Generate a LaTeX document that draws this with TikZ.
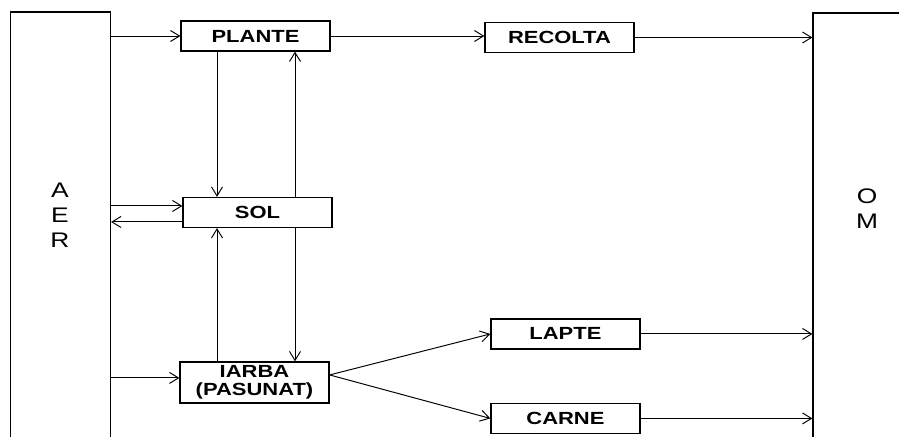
\documentclass[tikz,border=0pt]{standalone}
\usepackage{fontspec}
\usetikzlibrary{arrows.meta}
\newfontfamily\arialw{Liberation Sans}[FakeStretch=1.25]

\begin{document}
\begin{tikzpicture}[x=0.02cm, y=-0.02cm, line width=0.55pt,
    >={Straight Barb[length=1.8mm,width=2.2mm]},
    bloc/.style={draw, line width=0.7pt, minimum width=2.98cm, minimum height=0.6cm,
      inner sep=1pt, align=center, font=\arialw\bfseries\fontsize{10}{10.2}\selectfont},
    zona/.style={draw, line width=0.7pt, minimum width=2cm, minimum height=8.96cm},
    litere/.style={align=center, font=\arialw\fontsize{12}{14.2}\selectfont}]
    \path[use as bounding box, fill=white] (0,0) rectangle (899,436);

    % aer si om, cele doua zone mari
    \node (aer) [zona] at (60.5,236) {};
    \node (om) [zona, minimum width=2.12cm] at (866,237) {};
    \node (aertext) [litere] at (60,215.5) {A\\E\\R};
    \node (omtext) [litere] at (867,209) {O\\M};

    \node (plante) [bloc] at (255.5,36) {PLANTE};
    \node (sol) [bloc, below of=plante, node distance=3.53cm, xshift=0.04cm] {SOL};
    \node (iarba) [bloc, below of=sol, node distance=3.4cm, xshift=-0.06cm, minimum height=0.82cm] {IARBA\\(PASUNAT)};
    \node (recolta) [bloc, right of=plante, node distance=6.08cm, yshift=-0.03cm] {RECOLTA};
    \node (lapte) [bloc, right of=iarba, node distance=6.22cm, yshift=0.97cm] {LAPTE};
    \node (carne) [bloc, right of=iarba, node distance=6.22cm, yshift=-0.72cm] {CARNE};

    \coordinate (cl) at ([xshift=-0.77cm]plante.south);
    \coordinate (cr) at ([xshift=0.79cm]plante.south);
    \coordinate (s1) at ([yshift=0.13cm]sol.west);
    \coordinate (s2) at ([yshift=-0.19cm]sol.west);
    \coordinate (i1) at ([yshift=0.09cm]iarba.west);
    \coordinate (i2) at ([yshift=0.15cm]iarba.east);

    \draw[->] (aer.east |- plante) -- (plante);
    \draw[->] (aer.east |- s1) -- (s1);
    \draw[->] (s2) -- (aer.east |- s2);
    \draw[->] (aer.east |- i1) -- (i1);

    \draw[->] (cl) -- (cl |- sol.north);
    \draw[->] (cl |- iarba.north) -- (cl |- sol.south);
    \draw[->] (cr |- sol.north) -- (cr);
    \draw[->] (cr |- sol.south) -- (cr |- iarba.north);

    \draw[->] (plante) -- (plante -| recolta.west);
    \draw[->] (i2) -- (lapte.west);
    \draw[->] (i2) -- (carne.west);

    \draw[->] (recolta) -- (recolta -| om.west);
    \draw[->] (lapte) -- (lapte -| om.west);
    \draw[->] (carne) -- (carne -| om.west);
\end{tikzpicture}
\end{document}
